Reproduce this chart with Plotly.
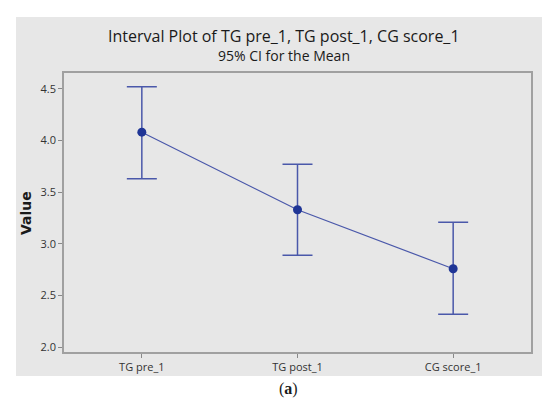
import plotly.graph_objects as go

categories = ["TG pre_1", "TG post_1", "CG score_1"]
means = [4.08, 3.33, 2.76]
ci_low = [3.63, 2.89, 2.32]
ci_high = [4.52, 3.77, 3.21]
y_ticks = [2.0, 2.5, 3.0, 3.5, 4.0, 4.5]

err_plus = [h - m for h, m in zip(ci_high, means)]
err_minus = [m - l for m, l in zip(means, ci_low)]

line_color = "#4a58aa"
marker_color = "#1f3596"
font_family = "Open Sans, DejaVu Sans, sans-serif"

fig = go.Figure()
fig.add_trace(go.Scatter(
    x=list(range(len(categories))), y=means,
    mode="lines+markers",
    line=dict(color=line_color, width=1.2),
    marker=dict(color=marker_color, size=9),
    error_y=dict(type="data", symmetric=False, array=err_plus, arrayminus=err_minus,
                 color=line_color, thickness=1.5, width=15),
    showlegend=False,
))

W, H = 550, 399
L, R, T, B = 56, 27, 65, 55
pw, ph = W - L - R, H - T - B

def px_x(p):
    return (p - L) / pw

def px_y(p):
    return (H - B - p) / ph

fig.add_shape(type="rect", xref="paper", yref="paper",
              x0=px_x(8), x1=px_x(543), y0=px_y(368), y1=px_y(9),
              fillcolor="#e7e7e7", line=dict(width=0), layer="below")

fig.update_layout(
    width=W, height=H,
    margin=dict(l=L, r=R, t=T, b=B),
    paper_bgcolor="white",
    plot_bgcolor="white",
    font=dict(family=font_family, color="#333333"),
    annotations=[
        dict(text="Interval Plot of TG pre_1, TG post_1, CG score_1", xref="paper", yref="paper",
             x=px_x(276), y=px_y(28), showarrow=False, xanchor="center", yanchor="middle",
             font=dict(size=16, color="#1a1a1a", family=font_family)),
        dict(text="95% CI for the Mean", xref="paper", yref="paper",
             x=px_x(276), y=px_y(47), showarrow=False, xanchor="center", yanchor="middle",
             font=dict(size=14, color="#1a1a1a", family=font_family)),
        dict(text="Value", xref="paper", yref="paper", textangle=-90,
             x=px_x(18), y=px_y(205), showarrow=False, xanchor="center", yanchor="middle",
             font=dict(size=14, color="#1a1a1a", family="DejaVu Sans, sans-serif", weight="bold")),
        dict(text="(<b>a</b>)", xref="paper", yref="paper",
             x=px_x(280), y=px_y(381), showarrow=False, xanchor="center", yanchor="middle",
             font=dict(size=16, color="#1a1a1a", family="Liberation Serif, DejaVu Serif, serif")),
    ],
)

fig.update_xaxes(
    range=[-0.5, 2.5],
    tickmode="array", tickvals=list(range(len(categories))), ticktext=categories,
    showgrid=False, zeroline=False,
    showline=True, linecolor="#a0a0a0", linewidth=1.5, mirror=True,
    ticks="outside", ticklen=4, tickcolor="#888888",
    tickfont=dict(size=11, color="#333333"),
)
fig.update_yaxes(
    range=[1.955, 4.652],
    tickmode="array", tickvals=y_ticks, ticktext=[f"{v:.1f}" for v in y_ticks],
    showgrid=False, zeroline=False,
    showline=True, linecolor="#a0a0a0", linewidth=1.5, mirror=True,
    ticks="outside", ticklen=4, tickcolor="#888888",
    tickfont=dict(size=11, color="#333333"),
)

fig.write_html("out.html")
